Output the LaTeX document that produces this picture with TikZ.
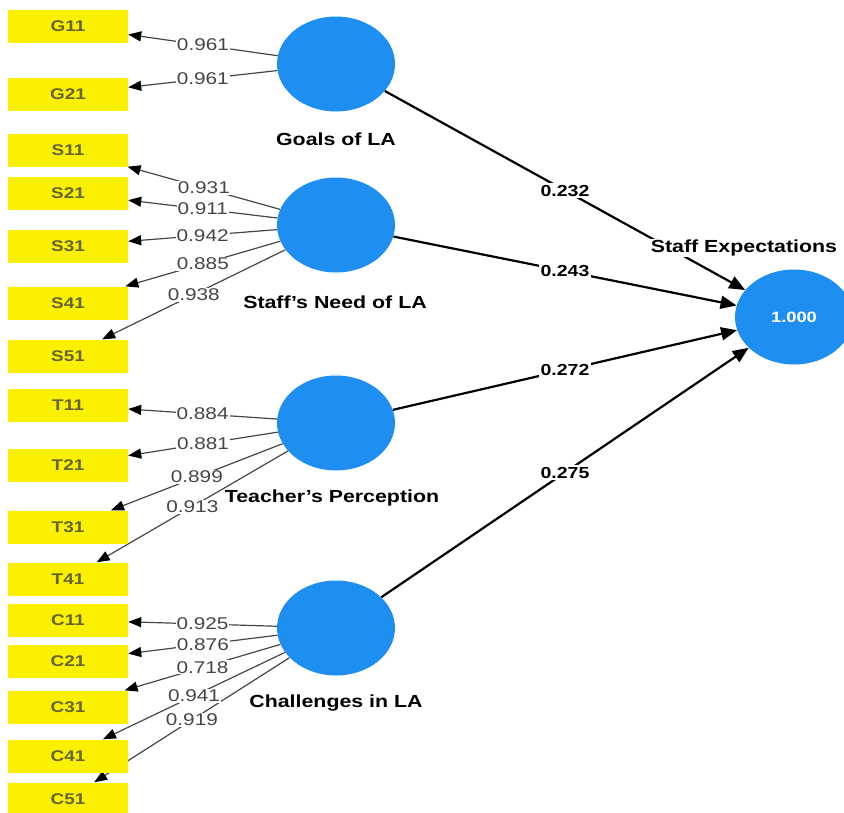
\documentclass[tikz,border=0pt]{standalone}
\usepackage{fontspec}
\setmainfont{Liberation Sans}[FakeStretch=1.22]
\usetikzlibrary{arrows.meta,shapes.geometric}
\pgfdeclarelayer{background}
\pgfsetlayers{background,main}
\definecolor{lvblue}{RGB}{30,142,240}
\definecolor{indyellow}{RGB}{250,240,0}
\definecolor{indtext}{RGB}{100,100,55}
\definecolor{loadgray}{RGB}{70,70,70}
\begin{document}
\begin{tikzpicture}[x=1pt,y=-1pt,
  ind/.style={fill=indyellow, minimum width=120pt, minimum height=33pt, inner sep=0pt,
    text=indtext, font=\fontsize{15.5}{18}\selectfont\bfseries},
  lv/.style={ellipse, fill=lvblue, minimum width=118pt, minimum height=95pt, inner sep=0pt},
  lvname/.style={font=\fontsize{17.5}{20}\selectfont\bfseries, inner sep=1pt},
  loading/.style={draw=loadgray, line width=1.2pt, -{Triangle[length=13pt,width=10pt,color=black]}},
  loadlbl/.style={fill=white, inner sep=1pt, text=loadgray, font=\fontsize{17}{20}\selectfont},
  pathline/.style={draw=black, line width=2.2pt, -{Triangle[length=16pt,width=13pt]}},
  pathlbl/.style={fill=white, inner sep=1.5pt, font=\fontsize{16}{19}\selectfont\bfseries}
]
\useasboundingbox (0,0) rectangle (844,812);
\clip (0,0) rectangle (844,812);

% indicators
\node[ind] (G11) at (68,26) {G11};
\node[ind] (G21) at (68,94) {G21};
\node[ind] (S11) at (68,150) {S11};
\node[ind] (S21) at (68,193) {S21};
\node[ind] (S31) at (68,246) {S31};
\node[ind] (S41) at (68,303) {S41};
\node[ind] (S51) at (68,356) {S51};
\node[ind] (T11) at (68,405) {T11};
\node[ind] (T21) at (68,465) {T21};
\node[ind] (T31) at (68,527) {T31};
\node[ind] (T41) at (68,579) {T41};
\node[ind] (C11) at (68,620) {C11};
\node[ind] (C21) at (68,661) {C21};
\node[ind] (C31) at (68,707) {C31};
\node[ind] (C41) at (68,756) {C41};
\node[ind] (C51) at (68,799) {C51};

% latent variables
\node[lv] (goals) at (336,64) {};
\node[lv] (need) at (336,225) {};
\node[lv] (teach) at (336,423) {};
\node[lv] (chal) at (336,628) {};
\node[lv, text=white, font=\fontsize{15}{18}\selectfont\bfseries] (se) at (794,317) {1.000};

\node[lvname] (goalsname) at (336,139) {Goals of LA};
\node[lvname] (needname) at (335,302) {Staff's Need of LA};
\node[lvname] (teachname) at (332,498) {Teacher's Perception};
\node[lvname] (chalname) at (336,703) {Challenges in LA};

\begin{pgfonlayer}{background}
\foreach \lvn/\indn in {goals/G11, goals/G21, need/S11, need/S21, need/S31, need/S41, need/S51,
  teach/T11, teach/T21, teach/T31, teach/T41, chal/C11, chal/C21, chal/C31, chal/C41, chal/C51}
  \draw[loading] (\lvn) -- coordinate[midway] (m\indn) (\indn);
\draw[pathline] (goals) -- node[pathlbl] {0.232} (se);
\draw[pathline] (need) -- node[pathlbl] {0.243} (se);
\draw[pathline] (teach) -- node[pathlbl] {0.272} (se);
\draw[pathline] (chal) -- node[pathlbl] {0.275} (se);
\end{pgfonlayer}

\foreach \indn/\val in {G11/0.961, G21/0.961, S11/0.931, S21/0.911, S31/0.942, S41/0.885, S51/0.938,
  T11/0.884, T21/0.881, T31/0.899, T41/0.913, C11/0.925, C21/0.876, C31/0.718, C41/0.941, C51/0.919}
  \node[loadlbl] at (m\indn) {\val};

\node[lvname, fill=white] (sename) at (744,248) {Staff Expectations};
\end{tikzpicture}
\end{document}
